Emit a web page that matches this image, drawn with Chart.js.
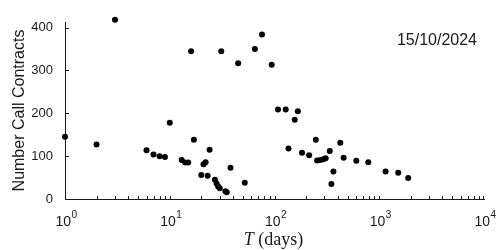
<!DOCTYPE html>
<html><head><meta charset="utf-8">
<script src="https://cdn.jsdelivr.net/npm/chart.js@4/dist/chart.umd.min.js"></script>
<style>html,body{margin:0;padding:0;background:#fff;}</style>
</head><body>
<canvas id="c" width="500" height="250"></canvas>
<script>
// ---- data ----
const maturityDays = [1,2,3,6,7,8,9,10,13,14,15,16,17,20,21,22,23,24,27,28,29,30,31,34,35,38,45,52,65,76,94,108,128,136,156,167,183,214,248,255,274,293,308,337,349,365,425,457,604,786,1149,1517,1889];
const callContracts = [145,127,418,114,104,100,98,178,91,85,85,345,138,56,81,86,54,115,45,36,29,25,345,18,16,73,317,38,350,384,313,209,209,118,185,205,108,102,138,90,91,93,95,112,35,64,131,96,89,86,64,61,49];
const xTickValues = [1,10,100,1000,10000];
const xTickExponents = ['0','1','2','3','4'];
const yTickValues = [0,100,200,300,400];
const dateLabel = '15/10/2024';
const yAxisTitle = 'Number Call Contracts';
const xAxisTitleVar = 'T';
const xAxisTitleRest = ' (days)';

const AXIS = '#1a1a1a';
const SANS = '"Liberation Sans", Arial, sans-serif';

const points = maturityDays.map((d, i) => ({x: d, y: callContracts[i]}));

const decorPlugin = {
  id: 'decor',
  afterDraw(chart) {
    const ctx = chart.ctx;
    const xs = chart.scales.x, ys = chart.scales.y;
    const area = chart.chartArea;
    ctx.save();
    ctx.strokeStyle = AXIS;
    ctx.lineWidth = 1;
    // inward ticks on x (major + minor)
    ctx.beginPath();
    for (let d = 1; d < 10000; d *= 10) {
      for (let k = 1; k <= 9; k++) {
        const v = d * k;
        if (v <= 1) continue;
        const px = Math.round(xs.getPixelForValue(v)) + 0.5;
        ctx.moveTo(px, area.bottom);
        ctx.lineTo(px, area.bottom - 3);
      }
    }
    const pxEnd = Math.round(xs.getPixelForValue(10000)) - 0.5;
    ctx.moveTo(pxEnd, area.bottom); ctx.lineTo(pxEnd, area.bottom - 3);
    // inward ticks on y
    yTickValues.forEach(v => {
      if (v === 0) return;
      const py = Math.round(ys.getPixelForValue(v)) + 0.5;
      ctx.moveTo(area.left, py);
      ctx.lineTo(area.left + 4, py);
    });
    ctx.stroke();

    // x tick labels 10^n
    ctx.fillStyle = AXIS;
    ctx.textBaseline = 'alphabetic';
    ctx.textAlign = 'left';
    xTickValues.forEach((v, i) => {
      const px = xs.getPixelForValue(v);
      ctx.font = '14px ' + SANS;
      const wb = ctx.measureText('10').width;
      ctx.font = '10px ' + SANS;
      const we = ctx.measureText(xTickExponents[i]).width;
      const x0 = px - (wb + we) / 2 + 1;
      ctx.font = '14px ' + SANS;
      ctx.fillText('10', x0, 226);
      ctx.font = '10px ' + SANS;
      ctx.fillText(xTickExponents[i], x0 + wb + 0.5, 218);
    });

    // x axis title: italic T + (days)
    const serif = '"Liberation Serif", "Times New Roman", serif';
    ctx.font = 'italic 18px ' + serif;
    const w1 = ctx.measureText(xAxisTitleVar).width;
    ctx.font = '18px ' + serif;
    const w2 = ctx.measureText(xAxisTitleRest).width;
    const cx = (area.left + area.right) / 2 - 1;
    const tx = cx - (w1 + w2) / 2;
    ctx.font = 'italic 18px ' + serif;
    ctx.fillText(xAxisTitleVar, tx, 245);
    ctx.font = '18px ' + serif;
    ctx.fillText(xAxisTitleRest, tx + w1, 245);

    // date annotation
    ctx.font = '16px ' + SANS;
    ctx.textAlign = 'right';
    ctx.fillText(dateLabel, 477, 45);
    ctx.restore();
  }
};

new Chart(document.getElementById('c'), {
  type: 'scatter',
  data: {
    datasets: [{
      data: points,
      backgroundColor: '#000',
      borderWidth: 0,
      pointRadius: 3,
      pointHoverRadius: 3,
      clip: false
    }]
  },
  options: {
    responsive: false,
    animation: false,
    devicePixelRatio: 1,
    layout: { padding: { top: 22, right: 16, left: 0, bottom: 0 } },
    plugins: { legend: { display: false }, tooltip: { enabled: false } },
    scales: {
      x: {
        type: 'logarithmic',
        min: 1, max: 10000,
        grid: { display: false, drawTicks: false },
        border: { display: true, color: AXIS, width: 1 },
        ticks: { display: false },
        afterFit(scale) { scale.height = 51; }
      },
      y: {
        type: 'linear',
        min: 0, max: 413,
        grid: { display: false, drawTicks: false },
        border: { display: true, color: AXIS, width: 1 },
        afterBuildTicks(scale) { scale.ticks = yTickValues.map(v => ({value: v})); },
        ticks: {
          padding: 12,
          color: AXIS,
          font: { family: SANS, size: 13 },
          callback: v => String(v)
        },
        title: {
          display: true,
          text: yAxisTitle,
          color: AXIS,
          font: { family: SANS, size: 16 },
          padding: { top: 10, bottom: 0 }
        },
        afterFit(scale) { scale.width = 65; }
      }
    }
  },
  plugins: [decorPlugin]
});
</script>
</body></html>
